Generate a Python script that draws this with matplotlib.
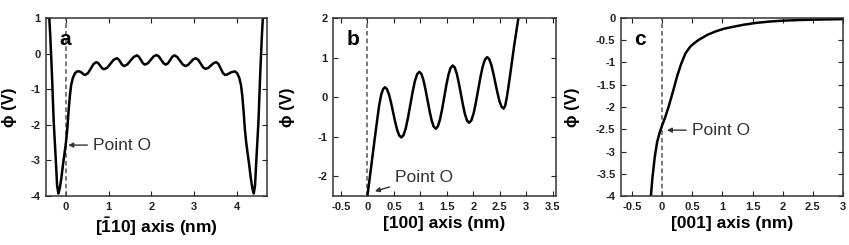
import numpy as np
import matplotlib
matplotlib.use("Agg")
import matplotlib.pyplot as plt

plt.rcParams['font.family'] = ['Liberation Sans', 'DejaVu Sans']
plt.rcParams['font.weight'] = 'bold'
plt.rcParams['axes.unicode_minus'] = False
plt.rcParams['mathtext.fontset'] = 'custom'
plt.rcParams['mathtext.rm'] = 'Liberation Sans:bold'
plt.rcParams['mathtext.bf'] = 'Liberation Sans:bold'

# panel a : [-110] direction
xa = [-0.42, -0.37, -0.33, -0.29, -0.24, -0.21, -0.18, -0.15, -0.11, -0.07, -0.03,
      0.00, 0.03, 0.06, 0.09, 0.12, 0.16, 0.21, 0.26,
      0.31, 0.345, 0.38, 0.415, 0.45, 0.515, 0.58, 0.645, 0.71, 0.755, 0.80, 0.845,
      0.89, 0.965, 1.04, 1.115, 1.19, 1.2325, 1.275, 1.3175, 1.36, 1.435, 1.51, 1.585,
      1.66, 1.7075, 1.755, 1.8025, 1.85, 1.9175, 1.985, 2.0525, 2.12, 2.175, 2.23, 2.285,
      2.34, 2.39, 2.44, 2.49, 2.54, 2.605, 2.67, 2.735, 2.80, 2.86, 2.92, 2.98,
      3.04, 3.0975, 3.155, 3.2125, 3.27, 3.3325, 3.395, 3.4575, 3.52, 3.5725, 3.625, 3.6775,
      3.73, 3.7775, 3.825, 3.8725, 3.92,
      3.96, 4.01, 4.06, 4.10, 4.13, 4.16, 4.19, 4.22, 4.25, 4.29, 4.33, 4.37, 4.40,
      4.43, 4.46, 4.51, 4.55, 4.59, 4.64]
ya = [1.6, 0.5, -0.6, -1.9, -3.0, -3.7, -3.93, -3.8, -3.5, -3.1, -2.75,
      -2.47, -2.1, -1.6, -1.18, -0.88, -0.68, -0.55, -0.50,
      -0.50, -0.515, -0.55, -0.585, -0.60, -0.547, -0.42, -0.293, -0.24, -0.269, -0.34, -0.411,
      -0.44, -0.395, -0.285, -0.175, -0.13, -0.162, -0.24, -0.318, -0.35, -0.306, -0.20, -0.094,
      -0.05, -0.088, -0.18, -0.272, -0.31, -0.271, -0.175, -0.079, -0.04, -0.079, -0.175, -0.271,
      -0.31, -0.272, -0.18, -0.088, -0.05, -0.094, -0.20, -0.306, -0.35, -0.318, -0.24, -0.162,
      -0.13, -0.174, -0.28, -0.386, -0.43, -0.402, -0.335, -0.268, -0.24, -0.293, -0.42, -0.547,
      -0.60, -0.587, -0.555, -0.523, -0.51,
      -0.50, -0.55, -0.68, -0.88, -1.18, -1.6, -2.1, -2.47, -2.75, -3.1, -3.5, -3.8, -3.93,
      -3.7, -3.0, -1.9, -0.6, 0.5, 1.6]

# panel b : [100] direction
xb = [0.00, 0.08, 0.16, 0.22, 0.26, 0.295, 0.33,
      0.369, 0.4075, 0.446, 0.485, 0.524, 0.5625, 0.601, 0.64,
      0.6825, 0.725, 0.7675, 0.81, 0.8525, 0.895, 0.9375, 0.98,
      1.019, 1.0575, 1.096, 1.135, 1.174, 1.2125, 1.251, 1.29,
      1.33, 1.37, 1.41, 1.45, 1.49, 1.53, 1.57, 1.61,
      1.649, 1.6875, 1.726, 1.765, 1.804, 1.8425, 1.881, 1.92,
      1.9625, 2.005, 2.0475, 2.09, 2.1325, 2.175, 2.2175, 2.26,
      2.299, 2.3375, 2.376, 2.415, 2.454, 2.4925, 2.531, 2.57,
      2.60, 2.63, 2.66, 2.69, 2.77, 2.85, 2.90]
yb = [-2.5, -1.66, -0.82, -0.22, 0.06, 0.20, 0.25,
      0.202, 0.065, -0.142, -0.385, -0.628, -0.835, -0.972, -1.02,
      -0.957, -0.778, -0.507, -0.19, 0.127, 0.398, 0.577, 0.64,
      0.585, 0.430, 0.195, -0.08, -0.355, -0.590, -0.745, -0.80,
      -0.739, -0.566, -0.306, 0.0, 0.306, 0.566, 0.739, 0.80,
      0.745, 0.588, 0.352, 0.075, -0.202, -0.438, -0.595, -0.65,
      -0.587, -0.408, -0.137, 0.18, 0.497, 0.768, 0.947, 1.01,
      0.961, 0.820, 0.608, 0.36, 0.112, -0.100, -0.241, -0.29,
      -0.22, -0.02, 0.24, 0.52, 1.3, 2.0, 2.5]

# panel c : [001] direction
xc = [-0.19, -0.16, -0.12, -0.08, -0.04, 0.00, 0.05, 0.11, 0.18, 0.25, 0.32, 0.39, 0.47,
      0.54, 0.61, 0.75, 0.89, 1.03, 1.17, 1.36, 1.56, 1.78, 2.0, 2.28, 2.56, 2.8, 3.0]
yc = [-4.1, -3.6, -3.12, -2.78, -2.58, -2.42, -2.24, -1.99, -1.66, -1.31, -1.02, -0.79, -0.64,
      -0.56, -0.49, -0.38, -0.30, -0.24, -0.20, -0.15, -0.11, -0.08, -0.06, -0.045, -0.035, -0.03, -0.025]

panels = [
    dict(x=xa, y=ya, xlim=(-0.47, 4.71), ylim=(-4, 1), xticks=[0, 1, 2, 3, 4],
         yticks=[-4, -3, -2, -1, 0, 1], xlabel=r"[$\bar{1}$10] axis (nm)", tag="a",
         txt=(0.63, -2.57), tip=(0.05, -2.57), ylx=-0.13),
    dict(x=xb, y=yb, xlim=(-0.65, 3.56), ylim=(-2.5, 2),
         xticks=[-0.5, 0, 0.5, 1, 1.5, 2, 2.5, 3, 3.5],
         yticks=[-2, -1, 0, 1, 2], xlabel="[100] axis (nm)", tag="b",
         txt=(0.52, -2.02), tip=(0.14, -2.38), ylx=-0.17),
    dict(x=xc, y=yc, xlim=(-0.68, 3.0), ylim=(-4, 0),
         xticks=[-0.5, 0, 0.5, 1, 1.5, 2, 2.5, 3],
         yticks=[-4, -3.5, -3, -2.5, -2, -1.5, -1, -0.5, 0], xlabel="[001] axis (nm)", tag="c",
         txt=(0.49, -2.52), tip=(0.08, -2.52), ylx=-0.185),
]
lefts = [46, 333, 621]
widths = [221, 223, 222]

fig = plt.figure(figsize=(8.49, 2.45), dpi=100)
for p, l, w in zip(panels, lefts, widths):
    ax = fig.add_axes([l / 849, 49 / 245, w / 849, 178 / 245])
    ax.axvline(0, color='#555555', ls='--', lw=1.1, dashes=(3, 2))
    ax.plot(p['x'], p['y'], color='black', lw=1.8)
    ax.set_xlim(*p['xlim'])
    ax.set_ylim(*p['ylim'])
    ax.set_xticks(p['xticks'])
    ax.set_yticks(p['yticks'])
    ax.set_xticklabels(['%g' % t for t in p['xticks']])
    ax.set_yticklabels(['%g' % t for t in p['yticks']])
    ax.tick_params(direction='in', length=3.5, width=0.8, top=True, right=True,
                   labelsize=8, pad=4, colors='#222222')
    for s in ax.spines.values():
        s.set_linewidth(1.1)
        s.set_color('#333333')
    ax.set_xlabel(p['xlabel'], fontsize=12.5, fontweight='bold', labelpad=3)
    ax.set_ylabel("ϕ (V)", fontsize=12, fontweight='bold')
    ax.yaxis.set_label_coords(p['ylx'], 0.5)
    ax.text(0.06, 0.93, p['tag'], transform=ax.transAxes, fontsize=15,
            fontweight='bold', va='top', ha='left')
    ax.annotate("Point O", xy=p['tip'], xytext=p['txt'], fontsize=12.5, fontweight='normal',
                va='center', ha='left', color='#333333',
                arrowprops=dict(arrowstyle='-|>', color='#333333', lw=1.0,
                                mutation_scale=7, shrinkA=2, shrinkB=0))

fig.savefig("out.png", dpi=100)
